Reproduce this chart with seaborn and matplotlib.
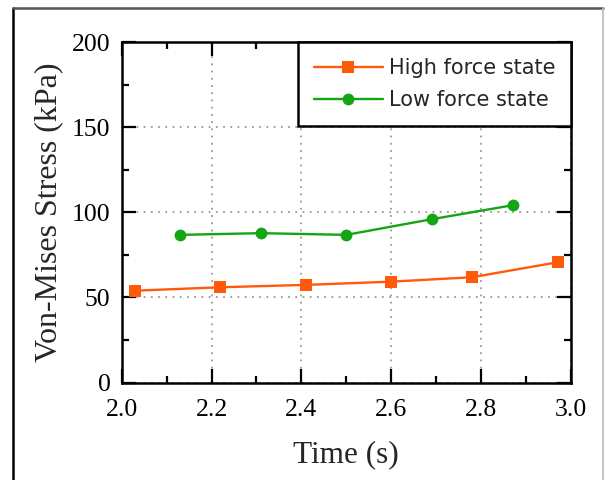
import numpy as np
import pandas as pd
import matplotlib
matplotlib.use("Agg")
import matplotlib.pyplot as plt
from matplotlib.ticker import MultipleLocator
from matplotlib.lines import Line2D
import seaborn as sns

# Data
high_time = [2.03, 2.22, 2.41, 2.60, 2.78, 2.97]
high_stress = [54.0, 56.0, 57.4, 59.3, 61.9, 70.7]
low_time = [2.13, 2.31, 2.50, 2.69, 2.87]
low_stress = [86.8, 87.8, 86.8, 96.0, 104.2]

high_color = '#FF5A0A'
low_color = '#14A514'

sns.set_theme(style="ticks")
plt.rcParams['font.family'] = ['Liberation Serif', 'DejaVu Serif']

fig = plt.figure(figsize=(6.05, 4.8), dpi=100)
ax = fig.add_axes([0.201, 0.203, 0.743, 0.709])

sns.lineplot(x=high_time, y=high_stress, ax=ax, color=high_color, marker='s',
             markersize=9, markeredgewidth=0, linewidth=1.7, label='High force state')
sns.lineplot(x=low_time, y=low_stress, ax=ax, color=low_color, marker='o',
             markersize=8.5, markeredgewidth=0, linewidth=1.7, label='Low force state')

ax.set_xlim(2.0, 3.0)
ax.set_ylim(0, 200)
ax.xaxis.set_major_locator(MultipleLocator(0.2))
ax.xaxis.set_minor_locator(MultipleLocator(0.1))
ax.yaxis.set_major_locator(MultipleLocator(50))
ax.yaxis.set_minor_locator(MultipleLocator(25))
ax.xaxis.set_major_formatter(matplotlib.ticker.FormatStrFormatter('%.1f'))

ax.grid(True, which='major', linestyle=(0, (1, 3)), color='#999999', linewidth=1.3)
ax.set_axisbelow(True)

ax.tick_params(which='both', direction='in', top=True, right=True,
               colors='black', labelsize=18.5, width=1.6)
ax.tick_params(which='major', length=10)
ax.tick_params(which='minor', length=5)
ax.tick_params(axis='x', pad=12)
ax.tick_params(axis='y', pad=8)
for s in ax.spines.values():
    s.set_linewidth(1.8)
    s.set_color('black')

ax.set_xlabel('Time (s)', fontsize=22.5, labelpad=14)
ax.set_ylabel('Von-Mises Stress (kPa)', fontsize=23, labelpad=6)

leg = ax.legend(loc='upper right', borderaxespad=0, fancybox=False,
                frameon=True, handlelength=3.3, handletextpad=0.3,
                borderpad=0.75, labelspacing=0.6,
                prop={'family': 'DejaVu Sans', 'size': 15})
leg.get_frame().set_edgecolor('black')
leg.get_frame().set_linewidth(1.8)
leg.get_frame().set_alpha(1)

# outer frame around the figure
fig.add_artist(Line2D([0.022, 0.022], [0.0, 0.983], transform=fig.transFigure,
                      color='black', linewidth=1.8))
fig.add_artist(Line2D([0.022, 0.997], [0.983, 0.983], transform=fig.transFigure,
                      color='#555555', linewidth=1.8))
fig.add_artist(Line2D([0.997, 0.997], [0.0, 0.983], transform=fig.transFigure,
                      color='#bbbbbb', linewidth=1.2))

fig.savefig('out.png', dpi=100)
